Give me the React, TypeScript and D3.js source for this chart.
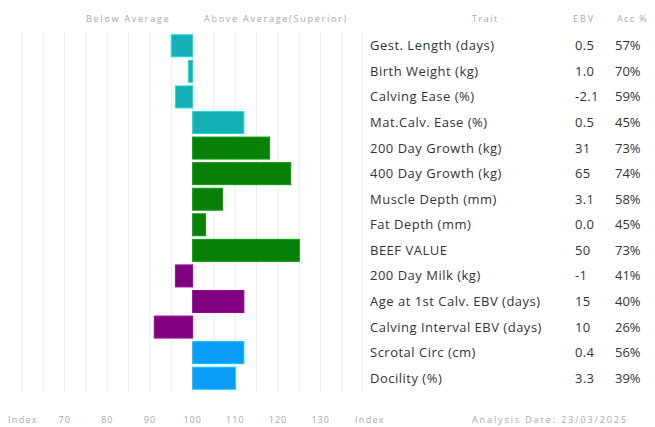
import React from "react";
import * as d3 from "d3";

const traits = [
  "Gest. Length (days)",
  "Birth Weight (kg)",
  "Calving Ease (%)",
  "Mat.Calv. Ease (%)",
  "200 Day Growth (kg)",
  "400 Day Growth (kg)",
  "Muscle Depth (mm)",
  "Fat Depth (mm)",
  "BEEF VALUE",
  "200 Day Milk (kg)",
  "Age at 1st Calv. EBV (days)",
  "Calving Interval EBV (days)",
  "Scrotal Circ (cm)",
  "Docility (%)",
];
const indexValues = [95, 99, 96, 112, 118, 123, 107, 103, 125, 96, 112, 91, 112, 110];
const ebvValues = ["0.5", "1.0", "-2.1", "0.5", "31", "65", "3.1", "0.0", "50", "-1", "15", "10", "0.4", "3.3"];
const accValues = ["57%", "70%", "59%", "45%", "73%", "74%", "58%", "45%", "73%", "41%", "40%", "26%", "56%", "39%"];
const groups = ["calving", "calving", "calving", "calving", "growth", "growth", "growth", "growth", "growth", "maternal", "maternal", "maternal", "other", "other"];
const groupColors: Record<string, string> = {
  calving: "#15b0b5",
  growth: "#088008",
  maternal: "#800080",
  other: "#0a9cf7",
};
const tickLabels = [70, 80, 90, 100, 110, 120, 130];
const gridValues = d3.range(60, 136, 5);

const W = 655;
const H = 427;
const FONT = "'Open Sans', 'Noto Sans', sans-serif";
const GREY = "#a8a8a8";

export default function App() {
  const x = d3.scaleLinear().domain([60, 135]).range([22, 342]);
  const y = d3
    .scaleBand<number>()
    .domain(d3.range(traits.length))
    .range([33, 391])
    .paddingInner(0.14)
    .paddingOuter(0.07);
  const bw = y.bandwidth();

  return (
    <div style={{ position: "fixed", left: 0, top: 0, width: W, height: H, background: "#fff" }}>
      <svg width={W} height={H} style={{ display: "block" }} fontFamily={FONT}>
        <rect x={0} y={0} width={W} height={H} fill="#fff" />
        {gridValues.map((v) => (
          <line key={v} x1={x(v)} x2={x(v)} y1={32} y2={392} stroke="#ebebeb" strokeWidth={1} />
        ))}
        <line x1={362} x2={362} y1={32} y2={392} stroke="#efefef" strokeWidth={1} />

        <text x={86} y={22} fontSize={9} fill={GREY} letterSpacing={1.75}>
          Below Average
        </text>
        <text x={204} y={22} fontSize={9} fill={GREY} letterSpacing={1.75}>
          Above Average(Superior)
        </text>

        {indexValues.map((v, i) => {
          const x0 = Math.min(x(100), x(v));
          const x1 = Math.max(x(100), x(v));
          const c = groupColors[groups[i]];
          return (
            <rect
              key={i}
              x={x0}
              y={y(i)!}
              width={Math.max(x1 - x0, 3)}
              height={bw}
              fill={c}
              stroke={d3.color(c)!.brighter(0.6).toString()}
              strokeWidth={1}
            />
          );
        })}

        <text x={472} y={22} fontSize={9} fill={GREY} letterSpacing={1.5}>Trait</text>
        <text x={573} y={22} fontSize={9} fill={GREY} letterSpacing={2}>EBV</text>
        <text x={617} y={22} fontSize={9} fill={GREY} letterSpacing={1.4}>Acc %</text>

        {traits.map((t, i) => {
          const cy = y(i)! + bw / 2 + 4.5;
          return (
            <g key={t}>
              <text x={370} y={cy} fontSize={13} fill="#333" letterSpacing={0.5}>{t}</text>
              <text x={575} y={cy} fontSize={13} fill="#333" letterSpacing={0.3}>{ebvValues[i]}</text>
              <text x={615} y={cy} fontSize={13} fill="#333" letterSpacing={0}>{accValues[i]}</text>
            </g>
          );
        })}

        <text x={8} y={423} fontSize={9} fill={GREY} letterSpacing={1.3}>Index</text>
        {tickLabels.map((v) => (
          <text key={v} x={x(v)} y={423} textAnchor="middle" fontSize={9} fill={GREY} letterSpacing={1}>
            {v}
          </text>
        ))}
        <text x={355} y={423} fontSize={9} fill={GREY} letterSpacing={1.3}>Index</text>
        <text x={472} y={423} fontSize={9} fill={GREY} letterSpacing={1.9}>Analysis Date: 23/03/2025</text>
      </svg>
    </div>
  );
}
